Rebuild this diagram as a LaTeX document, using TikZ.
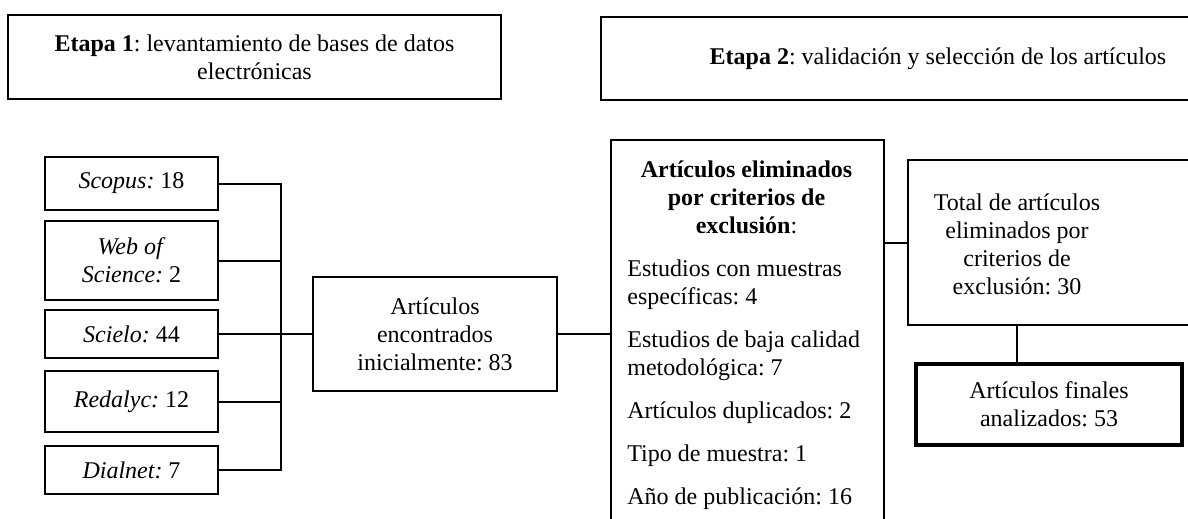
\documentclass[tikz,border=0pt]{standalone}
\usepackage{fontspec}
\setmainfont{Liberation Serif}
\frenchspacing
\begin{document}
\begin{tikzpicture}[x=0.5pt,y=-0.5pt,
    every node/.style={font=\fontsize{12}{14}\selectfont},
    box/.style={draw,line width=1pt,inner sep=0pt,align=center},
    finalbox/.style={box,line width=2.2pt},
    link/.style={line width=1pt}]
      \clip (0,0) rectangle (1188,519);
      % etapas
      \node[box,minimum width=246.5pt,minimum height=42pt] (etapa1) at (254.5,57) {\textbf{Etapa 1}: levantamiento de bases de datos\\electrónicas};
      \node[box,minimum width=337pt,minimum height=41.5pt] (etapa2) at (938,58.5) {\textbf{Etapa 2}: validación y selección de los artículos};
      % bases de datos
      \node[box,minimum width=86.5pt,minimum height=26.5pt] (scopus) at (131.5,183.5) {\textit{Scopus:} 18};
      \node[box,minimum width=86.5pt,minimum height=39.5pt] (wos) at (131.5,260.5) {\textit{Web of}\\\textit{Science:} 2};
      \node[box,minimum width=86.5pt,minimum height=24pt] (scielo) at (131.5,334) {\textit{Scielo:} 44};
      \node[box,minimum width=86.5pt,minimum height=30.5pt] (redalyc) at (131.5,401.5) {\textit{Redalyc:} 12};
      \node[box,minimum width=86.5pt,minimum height=24pt] (dialnet) at (131.5,470) {\textit{Dialnet:} 7};
      \coordinate (bus) at (281,0);
      \draw[link] (scopus.east) -- (scopus.east -| bus) -- (dialnet.east -| bus) -- (dialnet.east);
      \foreach \n in {wos,scielo,redalyc}
        \draw[link] (\n.east) -- (\n.east -| bus);
      % articulos encontrados
      \node[box,minimum width=122pt,minimum height=57pt] (art) at (435,334) {Artículos\\encontrados\\inicialmente: 83};
      \draw[link] (scielo.east) -- (art.west);
      % eliminados
      \node[box,anchor=north west,minimum width=136.5pt,minimum height=200pt] (elim) at (610,139) {};
      \node[align=center,inner sep=0pt] (elimtit) at (746.5,197) {\textbf{Artículos eliminados}\\\textbf{por criterios de}\\\textbf{exclusión}:};
      \node[align=left,inner sep=0pt,anchor=west] (elimtxt) at (627,385) {Estudios con muestras\\específicas: 4\\[7.5pt]
        Estudios de baja calidad\\metodológica: 7\\[7.5pt]
        Artículos duplicados: 2\\[7.5pt]
        Tipo de muestra: 1\\[7.5pt]
        Año de publicación: 16};
      \draw[link] (art.east) -- (art.east -| elim.west);
      % total y finales
      \node[box,anchor=west,minimum width=150pt,minimum height=82.5pt] (total) at (907,242.5) {};
      \node[align=center,inner sep=0pt] (totaltxt) at (1017,244) {Total de artículos\\eliminados por\\criterios de\\exclusión: 30};
      \draw[link] (total.west -| elim.east) -- (total.west);
      \node[finalbox,minimum width=133pt,minimum height=40.5pt] (final) at (1049,404.5) {Artículos finales\\analizados: 53};
      \draw[link] (totaltxt |- total.south) -- (totaltxt |- final.north);
    \end{tikzpicture}
\end{document}
